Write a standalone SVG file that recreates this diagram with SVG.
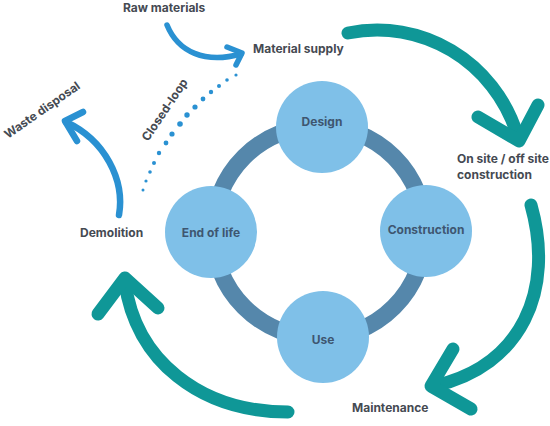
<svg xmlns="http://www.w3.org/2000/svg" width="550" height="426" viewBox="0 0 550 426">
<style>
.lbl{font-family:Inter,"Liberation Sans",sans-serif;font-weight:700;font-size:12px;fill:#454a52}
.node{fill:#7fc0e8}
.ntxt{font-family:Inter,"Liberation Sans",sans-serif;font-weight:700;font-size:12px;fill:#3e5670;text-anchor:middle}
.teal{fill:none;stroke:#0f9797;stroke-width:13;stroke-linecap:round;stroke-linejoin:round}
.blue{fill:none;stroke:#2a91d2;stroke-width:5.5;stroke-linecap:round;stroke-linejoin:round}
.dot{fill:#2a91d2}
</style>
<rect width="550" height="426" fill="#ffffff"/>
<g id="connectors">
<circle cx="319" cy="232" r="106" fill="none" stroke="#5587ab" stroke-width="17"/>
<path class="teal" d="M348,33 C420,18 495,60 518,137"/>
<path class="teal" d="M478,117 L519,141 L538,105"/>
<path class="teal" d="M531,205 C555,290 522,366 434,386"/>
<path class="teal" d="M453,349 L431,386 L471,409"/>
<path class="teal" d="M288,412 C200,412 135,360 125,282"/>
<path class="teal" d="M98,314 L125,278 L158,308"/>
<path class="blue" d="M167,25 C178,52 205,64 241,54"/>
<path class="blue" d="M227,47 L242,53 L236,65"/>
<path class="blue" style="stroke-width:6.5" d="M119,215 C125,180 105,140 66,122"/>
<path class="blue" style="stroke-width:6.5" d="M83,112 L65,121 L77,141"/>
<g id="closed-loop-dots">
<circle class="dot" cx="143" cy="190" r="1.5"/>
<circle class="dot" cx="146" cy="181" r="1.6"/>
<circle class="dot" cx="150" cy="172" r="1.8"/>
<circle class="dot" cx="154" cy="163" r="2"/>
<circle class="dot" cx="159" cy="153" r="2.2"/>
<circle class="dot" cx="166" cy="143" r="2.4"/>
<circle class="dot" cx="172" cy="134" r="2.6"/>
<circle class="dot" cx="180" cy="124" r="2.8"/>
<circle class="dot" cx="187" cy="115" r="2.7"/>
<circle class="dot" cx="195" cy="107" r="2.6"/>
<circle class="dot" cx="203" cy="99" r="2.4"/>
<circle class="dot" cx="211" cy="92" r="2.2"/>
<circle class="dot" cx="219" cy="86" r="2"/>
<circle class="dot" cx="227" cy="80" r="1.8"/>
<circle class="dot" cx="236" cy="75" r="1.6"/>
</g>
</g>
<g id="design"><circle class="node" cx="322" cy="127" r="46"/><text class="ntxt" x="322" y="126">Design</text></g>
<g id="construction"><circle class="node" cx="426" cy="231" r="46"/><text class="ntxt" x="426" y="234">Construction</text></g>
<g id="use"><circle class="node" cx="323" cy="337" r="46"/><text class="ntxt" x="323" y="344">Use</text></g>
<g id="end-of-life"><circle class="node" cx="211" cy="232" r="46"/><text class="ntxt" x="211" y="237">End of life</text></g>
<g id="raw-materials"><text class="lbl" x="123" y="12">Raw materials</text></g>
<g id="material-supply"><text class="lbl" x="253" y="53">Material supply</text></g>
<g id="on-site"><text class="lbl" x="457" y="163">On site / off site</text><text class="lbl" x="457" y="179">construction</text></g>
<g id="maintenance"><text class="lbl" x="352" y="412">Maintenance</text></g>
<g id="demolition"><text class="lbl" x="80" y="237">Demolition</text></g>
<g id="waste-disposal"><text class="lbl" x="0" y="0" transform="translate(8,139) rotate(-35)">Waste disposal</text></g>
<g id="closed-loop"><text class="lbl" x="0" y="0" transform="translate(148,142) rotate(-56)">Closed-loop</text></g>
</svg>
